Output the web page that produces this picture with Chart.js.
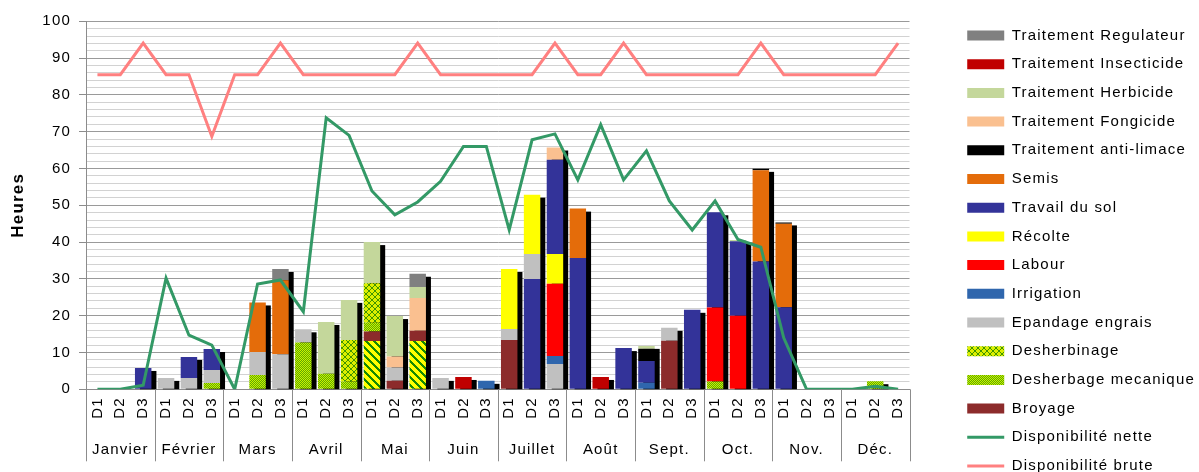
<!DOCTYPE html>
<html><head><meta charset="utf-8">
<script src="https://cdn.jsdelivr.net/npm/chart.js@4/dist/chart.umd.min.js"></script>
<style>
html,body{margin:0;padding:0;background:#fff;overflow:hidden;}
#wrap{width:1199px;height:500px;position:relative;}
</style></head><body>
<div id="wrap"><canvas id="c"></canvas></div>
<script>
// ---- categories / tick labels ----
const months = ['Janvier','Février','Mars','Avril','Mai','Juin','Juillet','Août','Sept.','Oct.','Nov.','Déc.'];
const decades = ['D1','D2','D3'];
const categories = months.flatMap(() => decades);
const yTickLabels = [0,10,20,30,40,50,60,70,80,90,100];

// ---- series (hours), 3 values per month: Jan | Feb | Mar | Apr | Mai | Juin | Juil | Août | Sep | Oct | Nov | Déc ----
const travailDuSolBis     = [0,0,0, 0,0,0, 0,0,0, 0,0,0, 0,0,0, 0,0,0, 0,30.0,0, 0,0,0, 0,0,0, 0,0,0, 0,0,0, 0,0,0];
const desherbinageRang    = [0,0,0, 0,0,0, 0,0,0, 0,0,0, 13.1,0,13.1, 0,0,0, 0,0,0, 0,0,0, 0,0,0, 0,0,0, 0,0,0, 0,0,0];
const broyage             = [0,0,0, 0,0,0, 0,0,0, 0,0,0, 2.6,2.3,2.8, 0,0,0, 13.4,0,0, 0,0,0, 0,13.2,0, 0,0,0, 0,0,0, 0,0,0];
const desherbageMecanique = [0,0,0, 0,0,1.7, 0,3.9,0, 12.7,4.2,2.1, 2.4,0,0, 0,0,0, 0,0,0, 0,0,0, 0,0,0, 2.1,0,0, 0,0,0, 0,2.2,0];
const desherbinage        = [0,0,0, 0,0,0, 0,0,0, 0,0,11.3, 10.7,0,0, 0,0,0, 0,0,0, 0,0,0, 0,0,0, 0,0,0, 0,0,0, 0,0,0];
const epandageEngrais     = [0,0,0, 3.1,3.1,3.55, 0,6.25,9.5, 3.6,0,0, 0,3.6,0, 3.1,0,0, 3.0,6.8,6.9, 0,0,0, 0,3.5,0, 0,0,0, 0,0,0, 0,0,0];
const irrigation          = [0,0,0, 0,0,0, 0,0,0, 0,0,0, 0,0,0, 0,0,2.3, 0,0,2.15, 0,0,0, 1.8,0,0, 0,0,0, 0,0,0, 0,0,0];
const labour              = [0,0,0, 0,0,0, 0,0,0, 0,0,0, 0,0,0, 0,0,0, 0,0,19.6, 0,0,0, 0,0,0, 20.1,20.0,0, 0,0,0, 0,0,0];
const recolte             = [0,0,0, 0,0,0, 0,0,0, 0,0,0, 0,0,0, 0,0,0, 16.3,16.1,8.15, 0,0,0, 0,0,0, 0,0,0, 0,0,0, 0,0,0];
const travailDuSol        = [0,0,5.8, 0,5.7,5.7, 0,0,0, 0,0,0, 0,0,0, 0,0,0, 0,0,25.6, 35.7,0,11.2, 5.9,0,21.6, 25.9,20.2,34.7, 22.3,0,0, 0,0,0];
const semis               = [0,0,0, 0,0,0, 0,13.45,20.1, 0,0,0, 0,0,0, 0,0,0, 0,0,0, 13.4,0,0, 0,0,0, 0,0,24.8, 22.7,0,0, 0,0,0];
const antiLimace          = [0,0,0, 0,0,0, 0,0,0, 0,0,0, 0,0,0, 0,0,0, 0,0,0, 0,0,0, 3.3,0,0, 0,0,0.4, 0.35,0,0, 0,0,0];
const fongicide           = [0,0,0, 0,0,0, 0,0,0, 0,0,0, 0,3.0,8.9, 0,0,0, 0,0,3.3, 0,0,0, 0,0,0, 0,0,0, 0,0,0, 0,0,0];
const herbicide           = [0,0,0, 0,0,0, 0,0,0, 0,14.1,10.9, 11.2,11.0,3.0, 0,0,0, 0,0,0, 0,0,0, 0.8,0,0, 0,0.4,0, 0,0,0, 0,0,0];
const insecticide         = [0,0,0, 0,0,0, 0,0,0, 0,0,0, 0,0,0, 0,3.35,0, 0,0,0, 0,3.35,0, 0,0,0, 0,0,0, 0,0,0, 0,0,0];
const regulateur          = [0,0,0, 0,0,0, 0,0,3.1, 0,0,0, 0,0,3.6, 0,0,0, 0,0,0, 0,0,0, 0,0,0, 0,0,0, 0,0,0, 0,0,0];
const dispoNette          = [0,0,1.1, 30.2,14.7,12.0, 0,28.6,29.7, 21.1,73.8,69.0, 53.9,47.4,50.9, 56.5,66.0,66.0, 43.3,67.8,69.4, 56.9,71.9,56.9, 64.8,51.2,43.3, 51.2,40.7,38.6, 14.0,0,0, 0,0.8,0];
const dispoBrute          = [85.5,85.5,94.1, 85.5,85.5,68.7, 85.5,85.5,94.1, 85.5,85.5,85.5, 85.5,85.5,94.1, 85.5,85.5,85.5, 85.5,85.5,94.1, 85.5,85.5,94.1, 85.5,85.5,85.5, 85.5,85.5,94.1, 85.5,85.5,85.5, 85.5,85.5,94.1];

const legendOrder = ['Traitement Regulateur','Traitement Insecticide','Traitement Herbicide','Traitement Fongicide','Traitement anti-limace','Semis','Travail du sol','Récolte','Labour','Irrigation','Epandage engrais','Desherbinage','Desherbage mecanique','Broyage','Disponibilité nette','Disponibilité brute'];

// ---- styles ----
const FONT = 'Liberation Sans';
const LETTER_SPACING = '1.2px';
const LEGEND_GAP = 44;
function tile(size, painter){ const c=document.createElement('canvas'); c.width=c.height=size; const g=c.getContext('2d'); painter(g,size); return g.createPattern(c,'repeat'); }
const patMeca = tile(2,(g)=>{ g.fillStyle='#5fa800'; g.fillRect(0,0,2,2); g.fillStyle='#c9f200'; g.fillRect(0,0,1,1); g.fillRect(1,1,1,1); });
const patDesherb = tile(6,(g,s)=>{ g.fillStyle='#dcef00'; g.fillRect(0,0,s,s); g.fillStyle='#3f9400'; for(let i=0;i<s;i++){ g.fillRect(i,i,1,1); g.fillRect(s-1-i,i,1,1);} });
const patRang = tile(8,(g,s)=>{ g.fillStyle='#ffff00'; g.fillRect(0,0,s,s); g.fillStyle='#168a00'; for(let y=0;y<s;y++) for(let x=0;x<s;x++){ if((((x-y)%s)+s)%s<3) g.fillRect(x,y,1,1);} });

function bar(label, data, color){ return {type:'bar', label, data, backgroundColor:color, borderWidth:0, pointStyle:'rect', order:1}; }
const datasets = [
  bar('Travail du sol (2)', travailDuSolBis, '#333399'),
  bar('Desherbinage (rang)', desherbinageRang, patRang),
  bar('Broyage', broyage, '#8c2b2b'),
  bar('Desherbage mecanique', desherbageMecanique, patMeca),
  bar('Desherbinage', desherbinage, patDesherb),
  bar('Epandage engrais', epandageEngrais, '#c0c0c0'),
  bar('Irrigation', irrigation, '#2f66ad'),
  bar('Labour', labour, '#ff0000'),
  bar('Récolte', recolte, '#ffff00'),
  bar('Travail du sol', travailDuSol, '#333399'),
  bar('Semis', semis, '#e46c0a'),
  bar('Traitement anti-limace', antiLimace, '#000000'),
  bar('Traitement Fongicide', fongicide, '#fac090'),
  bar('Traitement Herbicide', herbicide, '#c4d79b'),
  bar('Traitement Insecticide', insecticide, '#c00000'),
  bar('Traitement Regulateur', regulateur, '#808080'),
  {type:'line', label:'Disponibilité nette', data:dispoNette, borderColor:'#339966', backgroundColor:'#339966', borderWidth:3, pointRadius:0, pointBorderWidth:3, pointStyle:'line', tension:0, stack:'nette', order:0},
  {type:'line', label:'Disponibilité brute', data:dispoBrute, borderColor:'#ff8080', backgroundColor:'#ff8080', borderWidth:3, pointRadius:0, pointBorderWidth:3, pointStyle:'line', tension:0, stack:'brute', order:0}
];

const spacingPlugin = {
  id:'spacing',
  beforeUpdate(chart){ chart.ctx.letterSpacing = LETTER_SPACING; },
  beforeDraw(chart){ chart.ctx.letterSpacing = LETTER_SPACING; }
};
const legendGapPlugin = {
  id:'legendGap',
  beforeLayout(chart){
    const lg = chart.legend;
    if (lg && !lg.__gap){ const proto = Object.getPrototypeOf(lg); lg.fit = function(){ proto.fit.call(this); this.width += LEGEND_GAP; }; lg.__gap = true; }
  },
  afterLayout(chart){ if (chart.legend) chart.legend.left += LEGEND_GAP; }
};
const shadowPlugin = {
  id:'barShadow',
  beforeDatasetsDraw(chart){
    const {ctx, chartArea} = chart;
    const metas = chart.getSortedVisibleDatasetMetas().filter(m => m.type === 'bar');
    ctx.save();
    ctx.beginPath(); ctx.rect(chartArea.left, chartArea.top, chartArea.width, chartArea.height); ctx.clip();
    ctx.fillStyle = '#000';
    for (let i = 0; i < categories.length; i++){
      let top = Infinity, base = -Infinity, x = null, w = null;
      metas.forEach(m => {
        const v = chart.data.datasets[m.index].data[i];
        if (v > 0){ const p = m.data[i].getProps(['x','y','base','width'], true); top = Math.min(top, p.y); base = Math.max(base, p.base); x = p.x; w = p.width; }
      });
      if (x !== null) ctx.fillRect(x - w/2 + 5, top + 3, w, base - top);
    }
    ctx.restore();
  }
};
const separatorPlugin = {
  id:'monthSeparators',
  afterDraw(chart){
    const {ctx, chartArea} = chart; const xs = chart.scales.x;
    ctx.save(); ctx.strokeStyle = '#8c8c8c'; ctx.lineWidth = 1;
    for (let k = 0; k <= months.length; k++){
      const px = Math.round(xs.left + k * xs.width / months.length) + 0.5;
      ctx.beginPath(); ctx.moveTo(px, chartArea.bottom); ctx.lineTo(px, chartArea.bottom + 72); ctx.stroke();
    }
    ctx.restore();
  }
};

Chart.defaults.font.family = FONT;
Chart.defaults.font.size = 15;
Chart.defaults.color = '#000';

new Chart(document.getElementById('c'), {
  data:{ labels: categories, datasets },
  options:{
    responsive:true, maintainAspectRatio:false, animation:false,
    layout:{ padding:{ top:14.3, left:0, right:-6, bottom:0 } },
    plugins:{
      title:{ display:true, text:'', fullSize:false, font:{size:1, lineHeight:1}, padding:{top:0, bottom:6} },
      tooltip:{ enabled:false },
      legend:{
        position:'right', align:'start',
        labels:{
          usePointStyle:true, pointStyleWidth:37, boxHeight:10, padding:13.7,
          font:{family:FONT, size:15}, color:'#000',
          filter:(item) => legendOrder.includes(item.text),
          sort:(a,b) => legendOrder.indexOf(a.text) - legendOrder.indexOf(b.text)
        }
      }
    },
    scales:{
      x:{ stacked:true, offset:true, weight:0,
          grid:{ display:false, drawTicks:false },
          border:{ display:true, color:'#8c8c8c' },
          ticks:{ minRotation:90, maxRotation:90, autoSkip:false, padding:8, font:{size:15} },
          afterFit:(s) => { s.height = 33; } },
      x2:{ type:'category', labels: months, position:'bottom', offset:true, weight:1,
          grid:{ display:false, drawTicks:false }, border:{ display:false },
          ticks:{ maxRotation:0, autoSkip:false, padding:19, font:{size:15} },
          afterFit:(s) => { s.height = 77.7; } },
      y:{ stacked:true, min:0, max:100,
          ticks:{ stepSize:2, autoSkip:false, padding:8, font:{size:15},
                  callback:(v) => yTickLabels.includes(v) ? String(v) : '' },
          grid:{ color:(c) => (c.tick && c.tick.value % 10 === 0) ? '#9a9a9a' : '#d2d2d2',
                 tickColor:(c) => (c.tick && c.tick.value % 10 === 0) ? '#8c8c8c' : 'rgba(0,0,0,0)',
                 tickLength:7 },
          border:{ color:'#8c8c8c' },
          title:{ display:true, text:'Heures', font:{size:17, weight:'bold'}, padding:{top:8, bottom:0} },
          afterFit:(s) => { s.width = 86; } }
    }
  },
  plugins:[spacingPlugin, legendGapPlugin, shadowPlugin, separatorPlugin]
});
</script>
</body></html>
